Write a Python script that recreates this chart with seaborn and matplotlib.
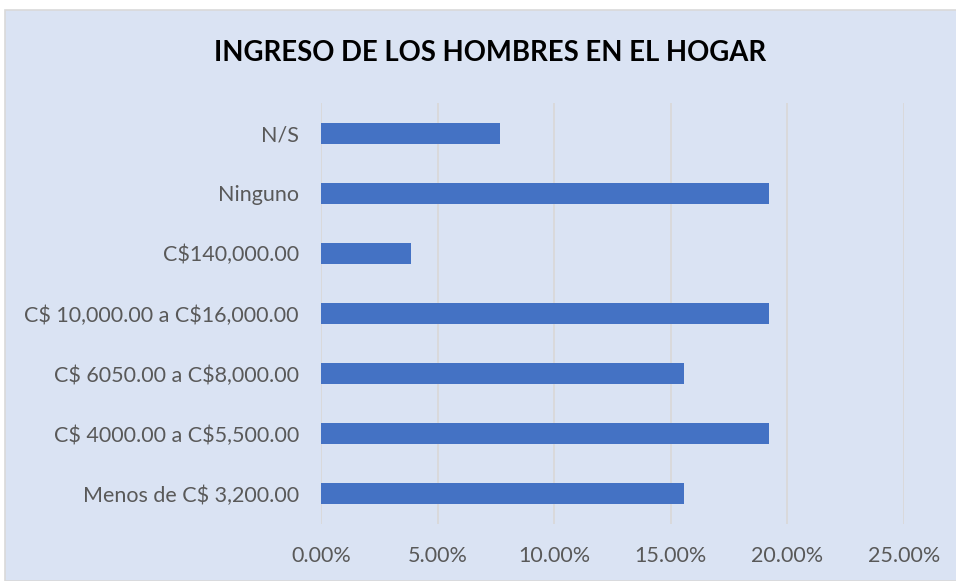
import matplotlib
matplotlib.use("Agg")
import matplotlib.pyplot as plt
from matplotlib.patches import Rectangle
from matplotlib.ticker import PercentFormatter
import pandas as pd
import seaborn as sns

categories = [
    "N/S",
    "Ninguno",
    "C$140,000.00",
    "C$ 10,000.00 a C$16,000.00",
    "C$ 6050.00 a C$8,000.00",
    "C$ 4000.00 a C$5,500.00",
    "Menos de C$ 3,200.00",
]
shares = [7.69, 19.23, 3.85, 19.23, 15.56, 19.23, 15.56]
x_ticks = [0, 5, 10, 15, 20, 25]

BG = "#DAE3F3"
BAR = "#4472C4"
GRID = "#D9D9D9"
TXT = "#595959"

sns.set_theme(style="white")
plt.rcParams["font.family"] = ["Lato", "DejaVu Sans"]
plt.rcParams["text.parse_math"] = False  # labels contain "$"


def main() -> None:
    df = pd.DataFrame({"cat": categories, "pct": shares})

    fig = plt.figure(figsize=(9.56, 5.81), dpi=100)
    fig.patch.set_facecolor("white")
    fig.patches.append(
        Rectangle((5 / 956, 0), 1, 1 - 10 / 581, transform=fig.transFigure,
                  facecolor=BG, edgecolor=GRID, linewidth=1.2, zorder=-5)
    )

    ax = fig.add_axes([321 / 956, 57 / 581, 583 / 956, 421 / 581])
    ax.patch.set_alpha(0)

    sns.barplot(data=df, y="cat", x="pct", orient="h", color=BAR,
                width=0.35, saturation=1, linewidth=0, ax=ax, zorder=3)

    ax.set_xlim(0, 25)
    ax.set_xticks(x_ticks)
    ax.xaxis.set_major_formatter(PercentFormatter(decimals=2))
    ax.grid(axis="x", color=GRID, linewidth=1.3, zorder=0)
    ax.set_axisbelow(True)
    for s in ax.spines.values():
        s.set_visible(False)
    ax.tick_params(axis="x", length=0, pad=16, labelsize=15.5, labelcolor=TXT)
    ax.tick_params(axis="y", length=0, pad=16, labelsize=15.5, labelcolor=TXT)
    ax.set_xlabel("")
    ax.set_ylabel("")

    fig.text(0.513, 1 - 53 / 581, "INGRESO DE LOS HOMBRES EN EL HOGAR",
             ha="center", va="center", fontsize=19.8, fontweight="bold",
             color="black")

    fig.savefig("out.png", dpi=100, facecolor=fig.get_facecolor())
    plt.close(fig)


if __name__ == "__main__":
    main()
